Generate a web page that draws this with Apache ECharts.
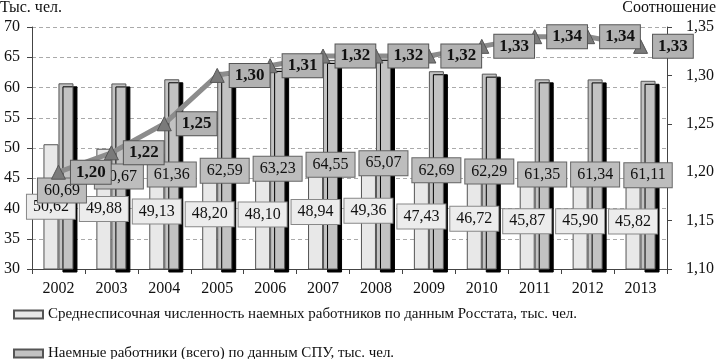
<!DOCTYPE html>
<html>
<head>
<meta charset="utf-8">
<script src="https://cdn.jsdelivr.net/npm/echarts@6/dist/echarts.min.js"></script>
<style>
html,body{margin:0;padding:0;background:#fff;}
#c{width:717px;height:359px;}
</style>
</head>
<body>
<div id="c"></div>
<script>
const years = ['2002','2003','2004','2005','2006','2007','2008','2009','2010','2011','2012','2013'];
const rosstat = [50.62,49.88,49.13,48.20,48.10,48.94,49.36,47.43,46.72,45.87,45.90,45.82];
const spu = [60.69,60.67,61.36,62.59,63.23,64.55,65.07,62.69,62.29,61.35,61.34,61.11];
const ratio = [1.20,1.22,1.25,1.30,1.31,1.32,1.32,1.32,1.33,1.34,1.34,1.33];
const nameRosstat = 'Среднесписочная численность наемных работников по данным Росстата, тыс. чел.';
const nameSpu = 'Наемные работники (всего) по данным СПУ, тыс. чел.';

const FONT = '"Liberation Serif", "Times New Roman", serif';
const fmt = v => v.toFixed(2).replace('.', ',');

const spuData = spu.map((v, i) => i === 0 ? {value: v, label: {offset: [-4, 14]}} : v);

const legendCommon = {
  orient: 'horizontal', left: 13, padding: 0,
  itemWidth: 29, itemHeight: 8, icon: 'rect',
  textStyle: {fontFamily: FONT, fontSize: 15, color: '#111'}
};

const chart = echarts.init(document.getElementById('c'), null, {renderer: 'canvas'});
chart.setOption({
  animation: false,
  textStyle: {fontFamily: FONT},
  grid: {left: 32, right: 50, top: 27, bottom: 90, containLabel: false},
  graphic: [
    {type: 'text', left: 0, top: 0, style: {text: 'Тыс. чел.', font: '16px ' + FONT, fill: '#111'}},
    {type: 'text', right: 1, top: 0, style: {text: 'Соотношение', font: '16px ' + FONT, fill: '#111'}}
  ],
  legend: [
    Object.assign({data: [nameRosstat], top: 307}, legendCommon),
    Object.assign({data: [nameSpu], top: 346}, legendCommon)
  ],
  xAxis: {
    type: 'category',
    data: years,
    boundaryGap: true,
    axisLine: {lineStyle: {color: '#444', width: 1}},
    axisTick: {show: true, length: 5, lineStyle: {color: '#444'}},
    axisLabel: {fontFamily: FONT, fontSize: 16, color: '#111', margin: 12}
  },
  yAxis: [
    {
      type: 'value', min: 30, max: 70, interval: 5,
      axisLine: {show: true, lineStyle: {color: '#444'}},
      axisTick: {show: true, length: 5, lineStyle: {color: '#444'}},
      axisLabel: {fontFamily: FONT, fontSize: 16, color: '#111', margin: 12},
      splitLine: {show: true, lineStyle: {color: '#aaa', type: [4, 3]}}
    },
    {
      type: 'value', min: 1.10, max: 1.35, interval: 0.05,
      axisLine: {show: true, lineStyle: {color: '#444'}},
      axisTick: {show: true, length: 5, lineStyle: {color: '#444'}},
      axisLabel: {fontFamily: FONT, fontSize: 16, color: '#111', margin: 19, formatter: v => fmt(v)},
      splitLine: {show: false}
    }
  ],
  series: [
    {
      name: nameRosstat, type: 'bar', data: rosstat, barWidth: 15, barGap: '0%',
      itemStyle: {color: '#e8e8e8', borderColor: '#555', borderWidth: 1},
      label: {
        show: true, position: 'inside', formatter: p => fmt(p.value),
        fontFamily: FONT, fontSize: 16, color: '#111',
        backgroundColor: '#ececec', borderColor: '#888', borderWidth: 1, padding: [4, 6]
      }
    },
    {
      name: nameSpu, type: 'bar', data: spuData, barWidth: 15, barGap: '0%',
      itemStyle: {color: '#c2c2c2', borderColor: '#555', borderWidth: 1,
        shadowColor: '#000', shadowOffsetX: 4, shadowOffsetY: 3, shadowBlur: 0},
      label: {
        show: true, position: 'inside', formatter: p => fmt(p.value),
        fontFamily: FONT, fontSize: 16, color: '#111',
        backgroundColor: '#bdbdbd', borderColor: '#666', borderWidth: 1, padding: [4, 6]
      }
    },
    {
      name: 'Соотношение', type: 'line', yAxisIndex: 1, data: ratio, z: 5,
      symbol: 'triangle', symbolSize: 14,
      lineStyle: {color: '#8c8c8c', width: 5},
      itemStyle: {color: '#7a7a7a', borderColor: '#555', borderWidth: 1},
      label: {
        show: true, position: 'right', distance: 5, formatter: p => fmt(p.value),
        fontFamily: FONT, fontSize: 17, fontWeight: 'bold', color: '#111',
        backgroundColor: '#b2b2b2', borderColor: '#555', borderWidth: 1, padding: [3, 5]
      }
    }
  ]
});
</script>
</body>
</html>
